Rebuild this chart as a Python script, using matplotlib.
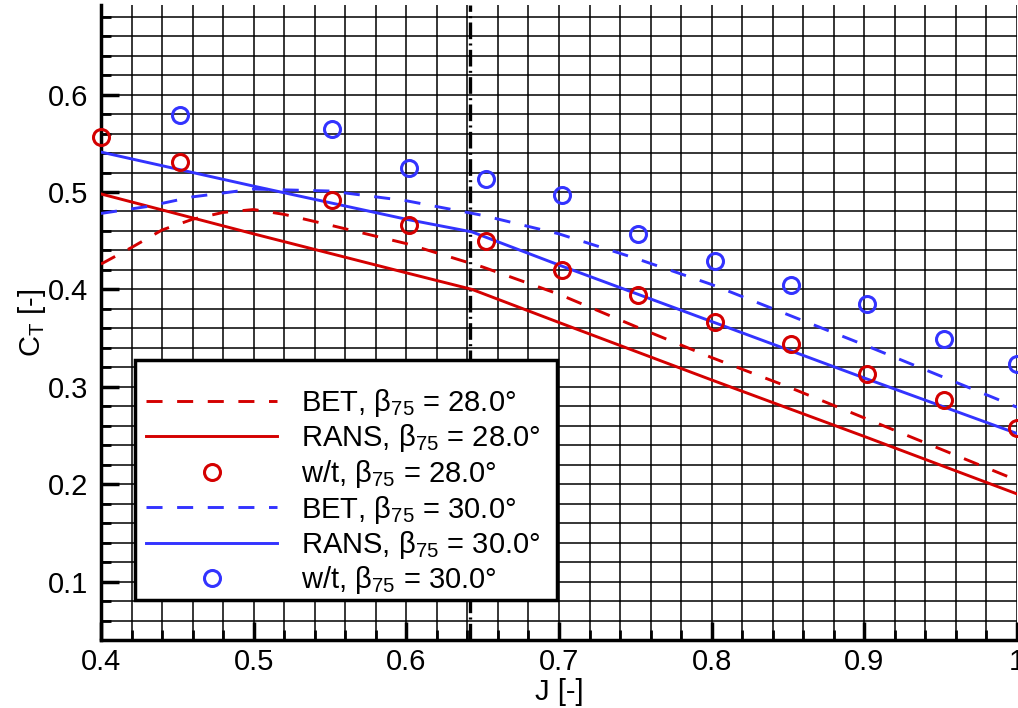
import matplotlib
matplotlib.use("Agg")
import matplotlib.pyplot as plt
import numpy as np
from matplotlib.ticker import MultipleLocator, FuncFormatter
from matplotlib.patches import Rectangle

plt.rcParams['font.family'] = ['Liberation Sans', 'DejaVu Sans']
plt.rcParams['mathtext.fontset'] = 'custom'
plt.rcParams['mathtext.rm'] = 'Liberation Sans'
plt.rcParams['mathtext.it'] = 'Liberation Sans:italic'

RED = '#d40000'
BLUE = '#3333ff'

# BET, beta75 = 28
bet28_J = [0.40, 0.42, 0.44, 0.46, 0.48, 0.50, 0.52, 0.55, 0.60, 0.65, 0.70, 0.75, 0.80, 0.85, 0.90, 0.95, 1.00]
bet28_CT = [0.426, 0.443, 0.461, 0.472, 0.479, 0.482, 0.477, 0.466, 0.447, 0.423, 0.395, 0.362, 0.330, 0.300, 0.268, 0.236, 0.204]
# RANS, beta75 = 28
rans28_J = [0.40, 0.50, 0.60, 0.643, 0.70, 0.80, 0.90, 1.00]
rans28_CT = [0.498, 0.457, 0.417, 0.400, 0.366, 0.307, 0.249, 0.190]
# wind tunnel, beta75 = 28
wt28_J = [0.400, 0.452, 0.551, 0.602, 0.652, 0.702, 0.752, 0.802, 0.852, 0.902, 0.952, 1.000]
wt28_CT = [0.556, 0.531, 0.492, 0.466, 0.450, 0.420, 0.394, 0.367, 0.344, 0.313, 0.286, 0.258]
# BET, beta75 = 30
bet30_J = [0.40, 0.43, 0.46, 0.50, 0.55, 0.60, 0.65, 0.70, 0.75, 0.80, 0.85, 0.90, 0.95, 1.00]
bet30_CT = [0.478, 0.485, 0.495, 0.503, 0.501, 0.491, 0.476, 0.457, 0.432, 0.405, 0.374, 0.343, 0.311, 0.279]
# RANS, beta75 = 30
rans30_J = [0.40, 0.50, 0.60, 0.643, 0.70, 0.80, 0.90, 1.00]
rans30_CT = [0.541, 0.506, 0.472, 0.459, 0.425, 0.367, 0.309, 0.252]
# wind tunnel, beta75 = 30
wt30_J = [0.452, 0.551, 0.602, 0.652, 0.702, 0.752, 0.802, 0.852, 0.902, 0.952, 1.000]
wt30_CT = [0.579, 0.565, 0.525, 0.513, 0.497, 0.457, 0.429, 0.404, 0.385, 0.349, 0.323]

J_ref = 0.642

FS = 21

fig = plt.figure(figsize=(10.18, 7.08), dpi=100)
ax = fig.add_axes([101/1018, 1-640/708, 916/1018, 635/708])
ax.set_xlim(0.4, 1.0)
ax.set_ylim(0.04, 0.692)

ax.xaxis.set_major_locator(MultipleLocator(0.1))
ax.xaxis.set_minor_locator(MultipleLocator(0.02))
ax.yaxis.set_major_locator(MultipleLocator(0.1))
ax.yaxis.set_minor_locator(MultipleLocator(0.02))
ax.xaxis.set_major_formatter(FuncFormatter(lambda v, p: ('%g' % round(v, 3))))
ax.yaxis.set_major_formatter(FuncFormatter(lambda v, p: ('%g' % round(v, 3))))

ax.grid(True, which='both', color='black', lw=1.1, zorder=0)
ax.set_axisbelow(True)
ax.tick_params(which='major', direction='in', length=13, width=2.5, labelsize=FS)
ax.tick_params(axis='x', which='major', pad=6)
ax.tick_params(axis='y', which='major', pad=9)
ax.tick_params(which='minor', direction='in', length=7, width=2)
for s in ['top', 'right']:
    ax.spines[s].set_visible(False)
for s in ['left', 'bottom']:
    ax.spines[s].set_linewidth(2.5)

ax.axvline(J_ref, color='black', lw=2.4, linestyle=(0, (5.0, 1.3, 0.6, 1.3)), zorder=1.5)

dash = (0, (5.5, 5))
lw = 2.1
ax.plot(bet28_J, bet28_CT, color=RED, lw=lw, linestyle=dash, label='BET, β$\\mathregular{_{75}}$ = 28.0°', zorder=3)
ax.plot(rans28_J, rans28_CT, color=RED, lw=lw, label='RANS, β$\\mathregular{_{75}}$ = 28.0°', zorder=3)
ax.plot(wt28_J, wt28_CT, linestyle='none', marker='o', ms=11.5, mfc='none', mec=RED, mew=2.2,
        label='w/t, β$\\mathregular{_{75}}$ = 28.0°', zorder=4, clip_on=False)
ax.plot(bet30_J, bet30_CT, color=BLUE, lw=lw, linestyle=dash, label='BET, β$\\mathregular{_{75}}$ = 30.0°', zorder=3)
ax.plot(rans30_J, rans30_CT, color=BLUE, lw=lw, label='RANS, β$\\mathregular{_{75}}$ = 30.0°', zorder=3)
ax.plot(wt30_J, wt30_CT, linestyle='none', marker='o', ms=11.5, mfc='none', mec=BLUE, mew=2.2,
        label='w/t, β$\\mathregular{_{75}}$ = 30.0°', zorder=4, clip_on=False)

# legend frame (drawn separately to match the reference's asymmetric padding)
def px2ax(px, py):
    return (px - 101) / 916, (640 - py) / 635

x0, y0 = px2ax(135, 600)
x1, y1 = px2ax(557, 360)
frame = Rectangle((x0, y0), x1 - x0, y1 - y0, transform=ax.transAxes, facecolor='white',
                  edgecolor='black', lw=2.5, zorder=9, clip_on=False)
ax.add_patch(frame)

lx, ly = px2ax(146, 387)
leg = ax.legend(loc='upper left', bbox_to_anchor=(lx, ly), fontsize=FS, frameon=False,
                handlelength=4.5, labelspacing=0.12, borderpad=0, handletextpad=0.8,
                borderaxespad=0)
leg.set_zorder(10)

ax.set_xlabel('J [-]', fontsize=FS, labelpad=1)
ax.set_ylabel('C$\\mathregular{_T}$ [-]', fontsize=FS, labelpad=0)

fig.savefig('out.png', dpi=100)
